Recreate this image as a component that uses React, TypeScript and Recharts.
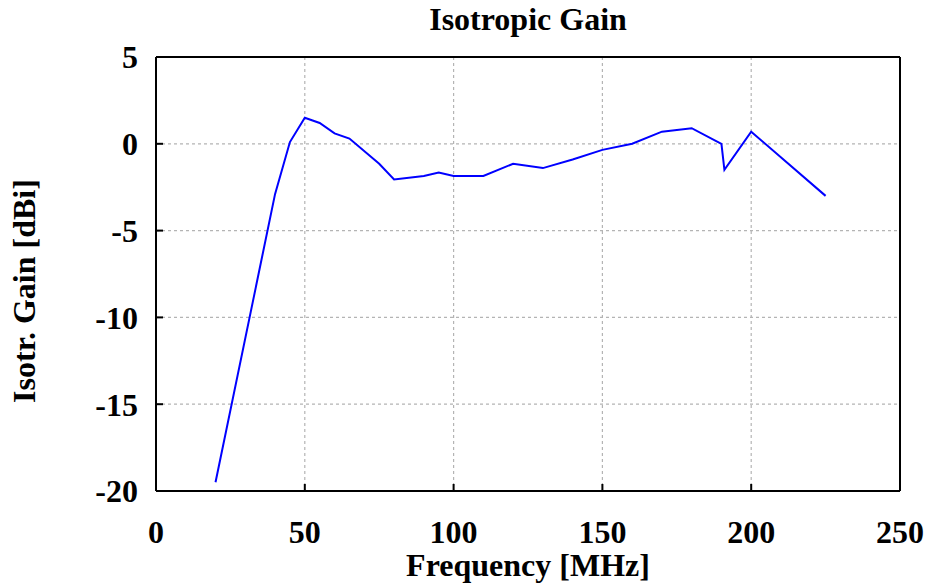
import { CartesianGrid, Label, Line, LineChart, XAxis, YAxis } from "recharts";

const frequencies = [20, 40, 45, 50, 55, 60, 65, 75, 80, 90, 95, 100, 110, 120, 130, 140, 150, 160, 170, 180, 190, 191, 200, 225];
const gains = [-19.5, -2.9, 0.1, 1.5, 1.2, 0.6, 0.3, -1.15, -2.05, -1.85, -1.65, -1.85, -1.85, -1.15, -1.4, -0.9, -0.35, 0, 0.7, 0.9, 0, -1.5, 0.7, -3.0];
const xTicks = [0, 50, 100, 150, 200, 250];
const yTicks = [-20, -15, -10, -5, 0, 5];

const data = frequencies.map((f, i) => ({ freq: f, gain: gains[i] }));

const font = "'Liberation Serif', 'Times New Roman', serif";
const tickStyle = { fontFamily: font, fontSize: 32, fontWeight: 700, fill: "#000" };
const axisLine = { stroke: "#000", strokeWidth: 2 };
const tickLine = { stroke: "#000", strokeWidth: 2 };

export default function App() {
  return (
    <div style={{ position: "absolute", left: 0, top: 0, background: "#fff" }}>
      <LineChart width={927} height={585} data={data} margin={{ top: 0, right: 0, bottom: 0, left: 0 }}>
        <CartesianGrid stroke="#b4b4b4" strokeDasharray="3 3" strokeWidth={1.2} />
        <XAxis
          dataKey="freq"
          type="number"
          domain={[0, 250]}
          ticks={xTicks}
          height={94}
          tickSize={-7}
          tickMargin={36}
          tick={tickStyle}
          axisLine={axisLine}
          tickLine={tickLine}
        >
          <Label
            content={({ viewBox }: any) => (
              <text
                x={viewBox.x + viewBox.width / 2}
                y={viewBox.y + 85}
                textAnchor="middle"
                style={tickStyle}
              >
                Frequency [MHz]
              </text>
            )}
          />
        </XAxis>
        <XAxis
          xAxisId="top"
          orientation="top"
          type="number"
          domain={[0, 250]}
          ticks={xTicks}
          height={57}
          tickSize={-7}
          tick={false}
          axisLine={axisLine}
          tickLine={tickLine}
        >
          <Label
            content={({ viewBox }: any) => (
              <text
                x={viewBox.x + viewBox.width / 2}
                y={30}
                textAnchor="middle"
                style={tickStyle}
              >
                Isotropic Gain
              </text>
            )}
          />
        </XAxis>
        <YAxis
          type="number"
          domain={[-20, 5]}
          ticks={yTicks}
          width={156}
          tickSize={-7}
          tickMargin={25}
          tick={tickStyle}
          axisLine={axisLine}
          tickLine={tickLine}
        >
          <Label
            content={({ viewBox }: any) => {
              const cx = 35;
              const cy = viewBox.y + viewBox.height / 2 + 17;
              return (
                <text x={cx} y={cy} textAnchor="middle" transform={`rotate(-90, ${cx}, ${cy})`} style={tickStyle}>
                  Isotr. Gain [dBi]
                </text>
              );
            }}
          />
        </YAxis>
        <YAxis
          yAxisId="right"
          orientation="right"
          type="number"
          domain={[-20, 5]}
          ticks={yTicks}
          width={27}
          tickSize={-7}
          tick={false}
          axisLine={axisLine}
          tickLine={tickLine}
        />
        <Line
          type="linear"
          dataKey="gain"
          stroke="#0000ff"
          strokeWidth={2}
          dot={false}
          isAnimationActive={false}
        />
      </LineChart>
    </div>
  );
}
